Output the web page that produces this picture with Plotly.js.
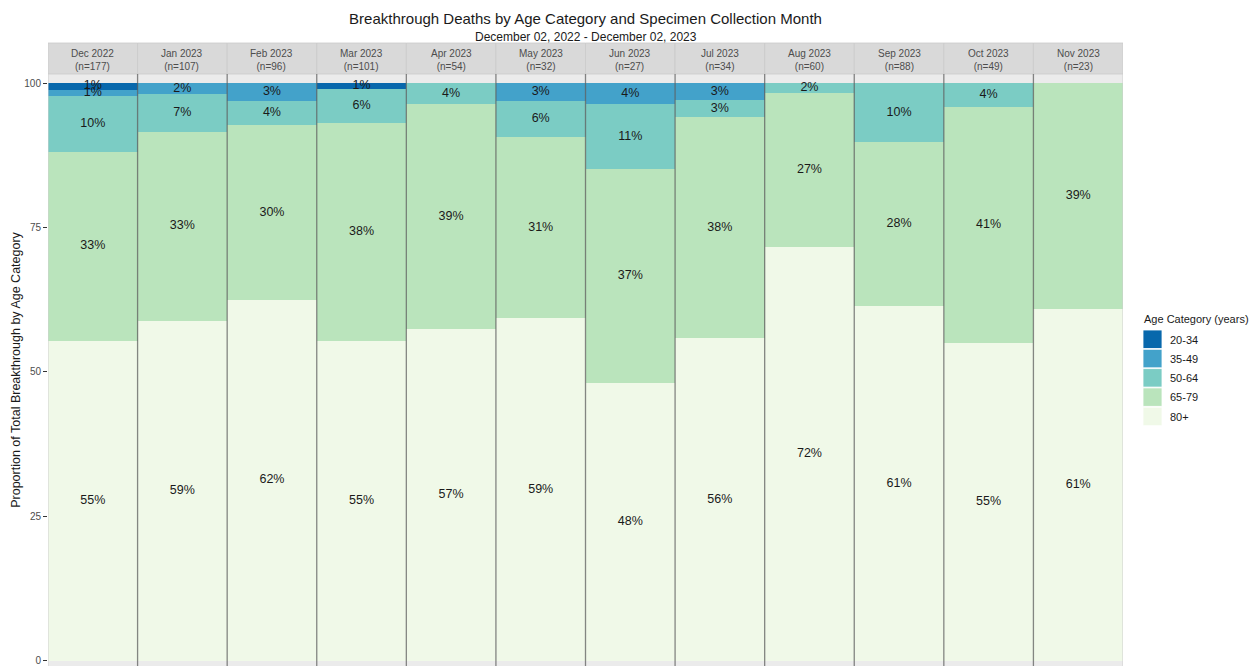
<!DOCTYPE html>
<html><head><meta charset="utf-8">
<script src="https://cdn.plot.ly/plotly-3.0.1.min.js"></script>
<style>html,body{margin:0;padding:0;background:#fff;overflow:hidden}</style>
</head><body>
<div id="chart" style="width:1260px;height:666px"></div>
<script>
// ---- data ----
const months = ["Dec 2022","Jan 2023","Feb 2023","Mar 2023","Apr 2023","May 2023","Jun 2023","Jul 2023","Aug 2023","Sep 2023","Oct 2023","Nov 2023"];
const totals = [177,107,96,101,54,32,27,34,60,88,49,23];
const ageCategories = ["80+","65-79","50-64","35-49","20-34"]; // stacking order, bottom to top
const count80 = [98,63,60,56,31,19,13,19,43,54,27,14];
const count65 = [58,35,29,38,21,10,10,13,16,25,20,9];
const count50 = [17,7,4,6,2,2,3,1,1,9,2,0];
const count35 = [2,2,3,0,0,1,1,1,0,0,0,0];
const count20 = [2,0,0,1,0,0,0,0,0,0,0,0];
const ageColors = ["#F0F9E8","#BAE4BC","#7BCCC4","#43A2CA","#0868AC"];
const yTicks = [0,25,50,75,100];

const countsByCat = [count80,count65,count50,count35,count20];
const FONT = "Liberation Sans, Arial, sans-serif";

function roundHalfEven(x){
  const f = x - Math.floor(x);
  if (Math.abs(f - 0.5) < 1e-9) return 2*Math.round(x/2);
  return Math.round(x);
}

// geometry helpers (pixel -> paper)
const L = 48, R = 1123, T = 74, B = 666;
const px = p => (p - L) / (R - L);
const py = p => (B - p) / (B - T);

const traces = [];
const pcts = countsByCat.map(arr => arr.map((c,i) => c / totals[i] * 100));

// bars
ageCategories.forEach((cat,k) => {
  traces.push({
    type: "bar", name: cat, x: months, y: pcts[k],
    marker: {color: ageColors[k], line: {width: 0}},
    width: 1, hoverinfo: "x+y+name", showlegend: false
  });
});

// labels at segment centres
const cum = months.map(() => 0);
ageCategories.forEach((cat,k) => {
  const xs = [], ys = [], ts = [];
  months.forEach((m,i) => {
    const v = pcts[k][i];
    if (countsByCat[k][i] > 0) {
      xs.push(m); ys.push(cum[i] + v/2); ts.push(roundHalfEven(v) + "%");
    }
    cum[i] += v;
  });
  traces.push({
    type: "scatter", mode: "text", x: xs, y: ys, text: ts,
    textfont: {family: FONT, size: 12.5, color: "#1a1a1a"},
    hoverinfo: "skip", showlegend: false, cliponaxis: false
  });
});

const shapes = [];
const annotations = [];

// strips
months.forEach((m,i) => {
  shapes.push({type:"rect", xref:"x", yref:"paper", x0:i-0.5, x1:i+0.5, y0:1, y1:py(43),
    fillcolor:"#D9D9D9", line:{color:"#CACACA", width:0.8}, layer:"above"});
  annotations.push({xref:"x", yref:"paper", x:m, y:py(60), yanchor:"middle", xanchor:"center",
    showarrow:false, text: m + "<br>(n=" + totals[i] + ")",
    font:{family:FONT, size:10, color:"#4D4D4D"}});
});
// panel dividers
for (let i = 0; i < months.length - 1; i++) {
  shapes.push({type:"line", xref:"x", yref:"paper", x0:i+0.5, x1:i+0.5, y0:0, y1:1,
    line:{color:"rgba(95,95,95,0.75)", width:1.3}, layer:"above"});
}
[-0.5, months.length - 0.5].forEach(x => {
  shapes.push({type:"line", xref:"x", yref:"paper", x0:x, x1:x, y0:0, y1:1,
    line:{color:"#CFCFCF", width:1}, layer:"above"});
});

// subtitle
annotations.push({xref:"paper", yref:"paper", x:0.5, y:py(36.5), xanchor:"center", yanchor:"middle",
  showarrow:false, text:"December 02, 2022 - December 02, 2023",
  font:{family:FONT, size:12, color:"#1a1a1a"}});

// manual legend
annotations.push({xref:"paper", yref:"paper", x:px(1142), y:py(319), xanchor:"left", yanchor:"middle",
  showarrow:false, text:"Age Category (years)", font:{family:FONT, size:11, color:"#1a1a1a"}});
const legendOrder = [4,3,2,1,0];
legendOrder.forEach((k,j) => {
  const top = 330 + j*19.3;
  shapes.push({type:"rect", xref:"paper", yref:"paper", x0:px(1143), x1:px(1162), y0:py(top+18.5), y1:py(top),
    fillcolor:ageColors[k], line:{color:"#ffffff", width:0.8}});
  annotations.push({xref:"paper", yref:"paper", x:px(1168), y:py(top+9.6), xanchor:"left", yanchor:"middle",
    showarrow:false, text:ageCategories[k], font:{family:FONT, size:11, color:"#1a1a1a"}});
});

const layout = {
  width: 1260, height: 666,
  margin: {l: L, r: 1260 - R, t: T, b: 0, pad: 0},
  paper_bgcolor: "#ffffff", plot_bgcolor: "#EBEBEB",
  font: {family: FONT},
  barmode: "stack", bargap: 0,
  showlegend: false,
  title: {text: "Breakthrough Deaths by Age Category and Specimen Collection Month",
    font: {family: FONT, size: 15, color: "#1a1a1a"},
    x: 0.5, xref: "paper", xanchor: "center", y: 1 - 18.5/666, yref: "container", yanchor: "middle"},
  xaxis: {type: "category", range: [-0.5, months.length - 0.5], showticklabels: false,
    ticks: "", showgrid: false, zeroline: false, showline: false, fixedrange: true},
  yaxis: {range: [-0.87, 101.56], tickvals: yTicks, ticktext: yTicks.map(String),
    ticks: "outside", ticklen: 4, tickcolor: "#333333", tickwidth: 1,
    ticklabeloverflow: "allow",
    tickfont: {family: FONT, size: 10, color: "#4D4D4D"},
    showgrid: false, zeroline: false, showline: false, automargin: false, fixedrange: true,
    title: {text: "Proportion of Total Breakthrough by Age Category", standoff: 0,
      font: {family: FONT, size: 12.5, color: "#1a1a1a"}}},
  shapes: shapes, annotations: annotations
};

Plotly.newPlot("chart", traces, layout, {displayModeBar: false, staticPlot: true});
</script>
</body></html>
